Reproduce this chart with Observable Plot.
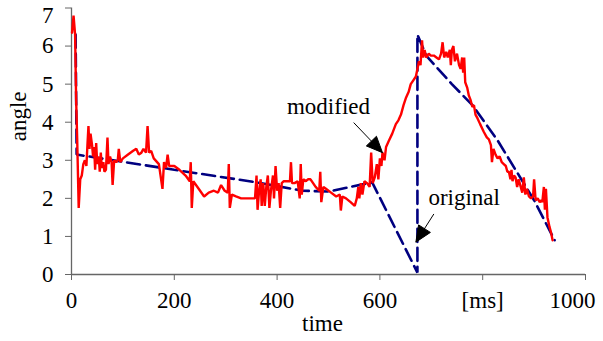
<!DOCTYPE html>
<html>
<head>
<meta charset="utf-8">
<script src="https://cdn.jsdelivr.net/npm/d3@7"></script>
<script src="https://cdn.jsdelivr.net/npm/@observablehq/plot@0.6"></script>
<style>
  html, body { margin: 0; padding: 0; background: #fff; }
  svg { display: block; }
  svg text { font-family: "Liberation Serif", "Times New Roman", serif !important; }
</style>
</head>
<body>
<div id="chart"></div>
<script>
// ---- data ----
const xTicks = [0, 200, 400, 600, 800];
const xTickLabels = ["0", "200", "400", "600", "[ms]"];
const xLastTick = [1000];
const yTicks = [0, 1, 2, 3, 4, 5, 6];
const yTopTick = [7];
const xLabel = "time";
const yLabel = "angle";

// original (blue dashed) : [time ms, angle]
const originalT = [8, 10, 200, 360, 450, 500, 585, 673, 673, 690, 740, 780, 830, 900, 940];
const originalV = [6.3, 3.15, 2.75, 2.42, 2.2, 2.18, 2.42, 0.05, 6.3, 5.75, 5.0, 4.45, 3.5, 1.95, 0.9];

// modified (red) : [time ms, angle]
const modifiedT = [1,4,7,9,11,14,17,20,23,26,29,31,33,35,37,40,42,44,46,48,50,53,55,57,59,62,64,67,70,72,75,78,80,83,87,90,92,95,100,110,120,126,131,136,140,145,148,151,155,160,170,177,180,184,187,190,200,210,222,230,232,234,237,245,258,267,277,285,291,298,304,306,308,312,320,330,345,357,360,362,365,368,370,373,376,379,382,385,388,392,394,397,400,403,406,409,413,418,425,427,429,434,440,444,446,448,451,456,460,465,470,475,482,484,486,490,495,505,515,522,524,527,534,543,551,555,558,560,563,566,570,575,580,583,586,590,594,597,600,603,605,609,612,617,624,631,636,641,646,651,656,660,665,670,673,676,679,682,684,687,690,695,699,705,710,715,719,722,725,729,732,736,738,740,743,746,750,754,757,760,762,764,766,770,773,776,780,783,786,790,795,802,808,812,816,818,821,825,829,833,837,841,845,848,851,854,856,858,861,864,867,870,874,877,880,883,886,890,894,898,900,903,907,911,914,916,919,921,923,926,930,933,936];
const modifiedV = [6.35,6.8,6.3,4.6,3.6,1.75,2.5,2.6,2.9,3.0,2.85,3.4,3.9,3.3,3.7,3.4,3.1,3.35,2.75,3.45,2.9,3.1,2.7,3.2,2.8,2.95,2.7,2.75,3.6,2.9,3.1,2.95,2.35,3.0,2.95,3.0,3.3,2.95,3.05,3.15,3.25,3.3,3.15,3.2,3.3,3.2,3.9,3.2,3.25,3.05,2.9,2.25,2.95,2.8,3.15,2.85,2.85,2.75,2.6,2.45,2.95,1.75,2.45,2.3,2.05,2.15,2.2,2.15,2.35,2.2,2.15,2.9,1.75,2.1,2.05,2.0,2.0,2.0,2.6,1.7,2.2,2.5,1.8,2.4,1.8,2.3,2.6,1.75,2.2,2.6,2.0,2.85,2.2,2.4,1.75,2.4,2.45,2.45,2.45,2.95,2.4,2.4,2.45,2.0,2.9,2.1,2.5,2.45,2.5,2.5,2.4,2.3,2.2,2.7,1.9,2.3,2.25,2.15,2.05,2.1,1.68,2.05,2.0,1.9,1.8,2.0,2.3,2.0,2.4,2.1,2.45,2.4,2.3,3.2,2.4,2.55,2.9,2.5,3.05,2.85,3.2,3.0,3.35,3.5,3.7,3.95,4.05,4.2,4.45,4.65,4.8,5.0,5.1,5.2,5.4,5.6,5.5,6.15,5.7,5.9,5.7,5.8,5.75,5.75,5.7,5.65,5.8,6.1,5.7,5.85,5.7,5.9,5.5,5.9,6.0,5.6,5.8,5.5,5.4,5.7,5.3,5.7,5.05,4.9,4.7,4.6,4.4,4.45,4.2,4.1,3.95,3.75,3.6,3.55,3.4,2.95,3.3,3.15,3.05,3.1,2.95,2.9,2.85,2.7,2.7,2.5,2.75,2.45,2.6,2.55,2.3,2.5,2.3,2.15,2.55,2.1,2.25,2.05,2.0,2.05,2.5,1.95,2.0,1.9,1.95,1.9,2.3,1.7,2.25,1.5,1.25,1.1,0.9];

// annotations
const annoText = ["modified", "original"];
const annoT = [500, 764];
const annoV = [4.42, 2.01];
const arrowFromT = [549, 705];
const arrowFromV = [3.99, 1.59];
const arrowToT = [605, 670];
const arrowToV = [3.2, 0.85];

// ---- tables ----
const original = originalT.map((t, i) => ({t, v: originalV[i]}));
const modified = modifiedT.map((t, i) => ({t, v: modifiedV[i]}));
const labels = annoText.map((text, i) => ({text, t: annoT[i], v: annoV[i]}));
const arrows = arrowFromT.map((t, i) => ({x1: t, y1: arrowFromV[i], x2: arrowToT[i], y2: arrowToV[i]}));
const tickLabel = new Map(xTicks.map((d, i) => [d, xTickLabels[i]]));

const FONT = "'Liberation Serif', 'Times New Roman', serif";
const FS = 23;
const AXIS = "#666";

function arrowHeads(index, scales, values, dimensions, context, next) {
  const g = next(index, scales, values, dimensions, context);
  const ns = "http://www.w3.org/2000/svg";
  for (const i of index) {
    const x1 = values.x1[i], y1 = values.y1[i], x2 = values.x2[i], y2 = values.y2[i];
    const a = Math.atan2(y2 - y1, x2 - x1), L = 16, W = 7;
    const bx = x2 - L * Math.cos(a), by = y2 - L * Math.sin(a);
    const pts = [[x2, y2], [bx + W * Math.sin(a), by - W * Math.cos(a)], [bx - W * Math.sin(a), by + W * Math.cos(a)]];
    const poly = document.createElementNS(ns, "polygon");
    poly.setAttribute("points", pts.map(p => p.join(",")).join(" "));
    poly.setAttribute("fill", "black");
    g.appendChild(poly);
  }
  return g;
}

const chart = Plot.plot({
  width: 603,
  height: 341,
  marginLeft: 71,
  marginRight: 18,
  marginTop: 7.5,
  marginBottom: 67,
  style: {fontFamily: FONT, fontSize: FS + "px", color: "black", background: "white"},
  x: {domain: [0, 1000]},
  y: {domain: [0, 7]},
  marks: [
    Plot.ruleX([0], {stroke: AXIS, strokeWidth: 1.3}),
    Plot.ruleY([0], {stroke: AXIS, strokeWidth: 1.3}),
    Plot.axisY({ticks: yTicks.concat(yTopTick), tickSize: 6, tickPadding: 12, stroke: AXIS, fill: "black",
      tickFormat: d => (yTopTick.includes(d) ? "" : String(d)), label: null, fontSize: FS, fontFamily: FONT}),
    Plot.text(yTopTick, {y: d => d, frameAnchor: "left", textAnchor: "end", lineAnchor: "top", dx: -18, dy: -1, text: d => String(d), fontSize: FS, fontFamily: FONT}),
    Plot.axisX({ticks: xTicks.concat(xLastTick), tickSize: 6, tickPadding: 11, stroke: AXIS, fill: "black",
      tickFormat: d => (tickLabel.has(d) ? tickLabel.get(d) : ""), label: null, fontSize: FS, fontFamily: FONT}),
    Plot.text(xLastTick, {x: d => d, frameAnchor: "bottom", textAnchor: "end", lineAnchor: "top", dx: 10, dy: 17, text: d => String(d), fontSize: FS, fontFamily: FONT}),
    Plot.text([xLabel], {frameAnchor: "bottom", dx: -6, dy: 56, fontSize: FS, fontFamily: FONT}),
    Plot.text([yLabel], {frameAnchor: "left", rotate: -90, dx: -53, fontSize: FS, fontFamily: FONT}),
    Plot.line(original, {x: "t", y: "v", stroke: "#000080", strokeWidth: 2.6, strokeDasharray: "13,6", strokeLinejoin: "miter"}),
    Plot.line(modified, {x: "t", y: "v", stroke: "#ff0000", strokeWidth: 2.4, strokeLinejoin: "miter"}),
    Plot.text(labels, {x: "t", y: "v", text: "text", fontSize: FS, fontFamily: FONT}),
    Plot.link(arrows, {x1: "x1", y1: "y1", x2: "x2", y2: "y2", stroke: "black", strokeWidth: 1, render: arrowHeads})
  ]
});
document.getElementById("chart").appendChild(chart);
</script>
</body>
</html>
